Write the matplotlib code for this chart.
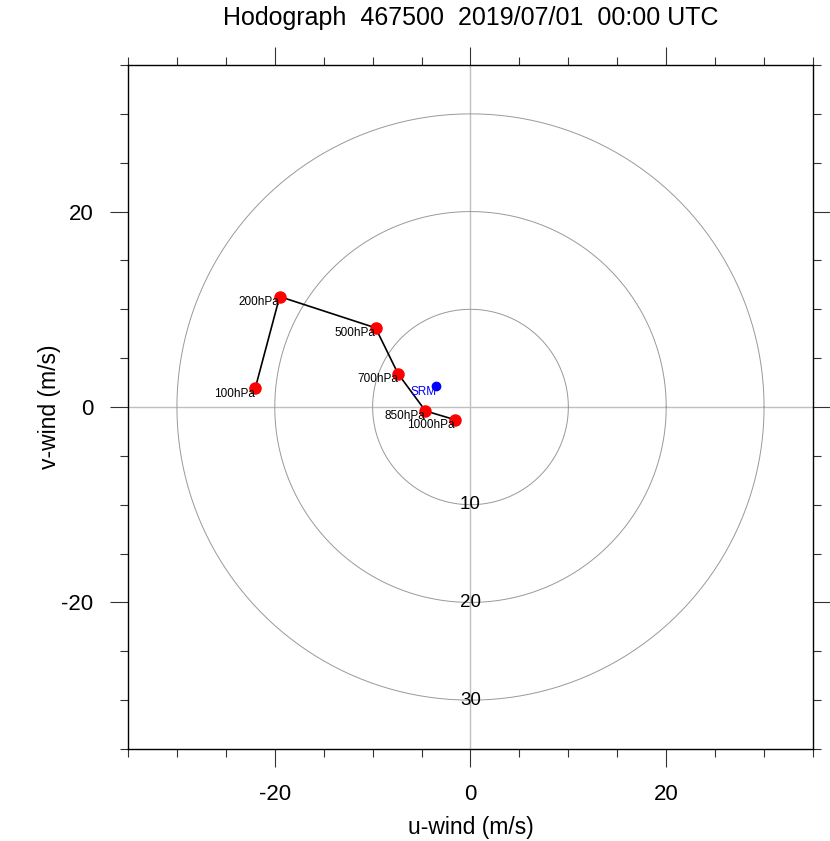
import numpy as np
import matplotlib
matplotlib.use("Agg")
import matplotlib.pyplot as plt

# hodograph data (m/s)
levels = ["1000hPa", "850hPa", "700hPa", "500hPa", "200hPa", "100hPa"]
u_wind = [-1.6, -4.6, -7.4, -9.7, -19.5, -22.0]
v_wind = [-1.3, -0.4, 3.4, 8.1, 11.3, 1.9]
srm_u = -3.5
srm_v = 2.1
rings = [10, 20, 30]

plt.rcParams["font.family"] = ["Liberation Sans", "DejaVu Sans"]
plt.rcParams["axes.unicode_minus"] = False

fig = plt.figure(figsize=(8.3, 8.41), dpi=100)
ax = fig.add_axes([0.1542, 0.1094, 0.8253, 0.8133])

ax.set_xlim(-35, 35)
ax.set_ylim(-35, 35)

# crosshair and speed rings
ax.axhline(0, color="#c0c0c0", lw=1, zorder=1)
ax.axvline(0, color="#c0c0c0", lw=1, zorder=1)
theta = np.linspace(0, 2 * np.pi, 361)
for r in rings:
    ax.plot(r * np.cos(theta), r * np.sin(theta), color="#999999", lw=0.7, zorder=1)
    ax.text(0, -r, str(r), ha="center", va="center", fontsize=13.5, zorder=2)

# hodograph line and points
ax.plot(u_wind, v_wind, color="black", lw=1.2, zorder=3)
ax.plot(u_wind, v_wind, "o", color="red", ms=8, zorder=4)
for u, v, name in zip(u_wind, v_wind, levels):
    ax.annotate(name, (u, v), xytext=(0, -4), textcoords="offset points",
                ha="right", va="center", fontsize=8.5, zorder=5)

ax.plot(srm_u, srm_v, "o", color="blue", ms=6, zorder=4)
ax.annotate("SRM", (srm_u, srm_v), xytext=(0, -4), textcoords="offset points",
            ha="right", va="center", fontsize=8.5, color="blue", zorder=5)

# ticks on all four sides, outward
ax.set_xticks([-20, 0, 20])
ax.set_yticks([-20, 0, 20])
ax.set_xticks(np.arange(-35, 36, 5), minor=True)
ax.set_yticks(np.arange(-35, 36, 5), minor=True)
ax.tick_params(which="both", direction="out", top=True, right=True,
               labelsize=16, width=0.8, color="#333333")
ax.tick_params(which="major", length=13, pad=12)
ax.tick_params(which="minor", length=6)
for sp in ax.spines.values():
    sp.set_linewidth(1.0)

ax.set_xlabel("u-wind (m/s)", fontsize=16.5, labelpad=8)
ax.set_ylabel("v-wind (m/s)", fontsize=16.5, labelpad=0)

# title placed in figure coords so the top ticks don't push it around
fig.text(0.5668, 0.9786, "Hodograph  467500  2019/07/01  00:00 UTC",
         ha="center", va="center", fontsize=18)

fig.savefig("out.png", dpi=100)
